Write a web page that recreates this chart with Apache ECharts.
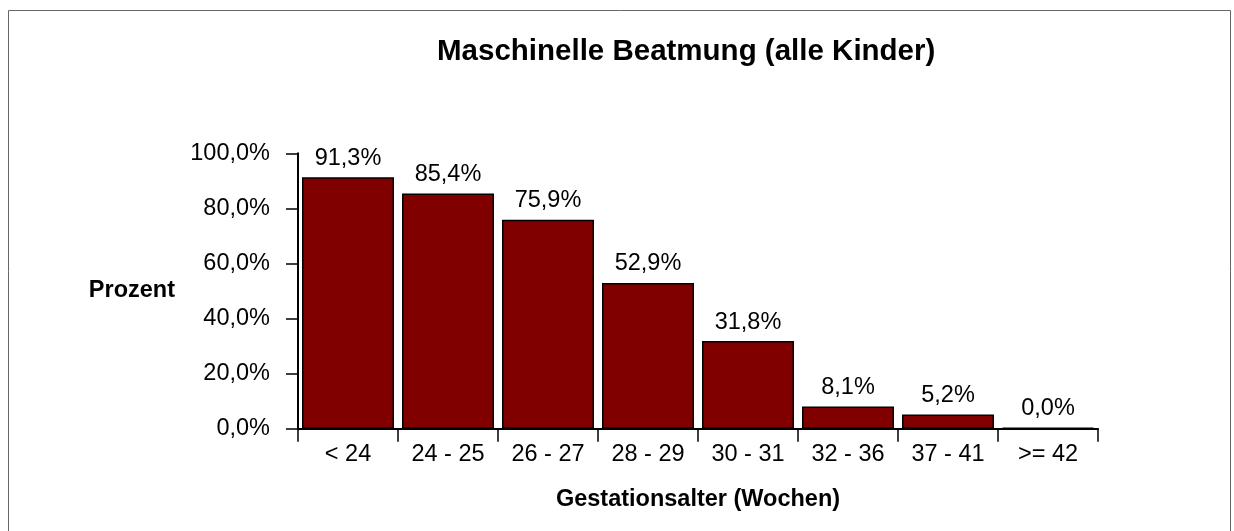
<!DOCTYPE html>
<html>
<head>
<meta charset="utf-8">
<script src="https://cdn.jsdelivr.net/npm/echarts@6/dist/echarts.min.js"></script>
<style>
    html, body {margin: 0; padding: 0; background: #fff;}
    #chart {width: 1234px; height: 531px;}
</style>
</head>
<body>
<div id="chart"></div>
<script>
    // Gestationsalter-Klassen und Anteil beatmeter Kinder (%)
    var categories = ['< 24', '24 - 25', '26 - 27', '28 - 29', '30 - 31', '32 - 36', '37 - 41', '>= 42'];
    var values = [91.3, 85.4, 75.9, 52.9, 31.8, 8.1, 5.2, 0.0];
    var yTicks = [0, 20, 40, 60, 80, 100];

    var fontName = '"Liberation Sans", Arial, sans-serif';

    function pct(v) {
        return v.toFixed(1).replace('.', ',') + '%';
    }

    var myChart = echarts.init(document.getElementById('chart'));
    var option = {
        animation: false,
        backgroundColor: '#fff',
        textStyle: {fontFamily: fontName, color: '#000'},
        title: {
            text: 'Maschinelle Beatmung (alle Kinder)',
            left: 437,
            top: 37,
            padding: 0,
            textStyle: {fontFamily: fontName, fontSize: 29.5, fontWeight: 'bold', color: '#000'}
        },
        graphic: [{
            type: 'rect',
            shape: {x: 8.5, y: 10.5, width: 1222, height: 540},
            style: {fill: 'none', stroke: '#666', lineWidth: 1},
            silent: true
        }],
        grid: {
            left: 298,
            right: 136,
            top: 153.3,
            bottom: 102.3,
            containLabel: false
        },
        xAxis: {
            type: 'category',
            data: categories,
            name: 'Gestationsalter (Wochen)',
            nameLocation: 'middle',
            nameGap: 59,
            nameTextStyle: {fontFamily: fontName, fontSize: 23.5, fontWeight: 'bold', color: '#000'},
            axisLine: {show: true, lineStyle: {color: '#000', width: 2}},
            axisTick: {show: true, length: 13, lineStyle: {color: '#000', width: 1.5}},
            axisLabel: {margin: 14, fontFamily: fontName, fontSize: 23.5, color: '#000'},
            splitLine: {show: false}
        },
        yAxis: {
            type: 'value',
            min: yTicks[0],
            max: yTicks[yTicks.length - 1],
            interval: 20,
            name: 'Prozent',
            nameLocation: 'middle',
            nameRotate: 0,
            nameGap: 123,
            nameTextStyle: {fontFamily: fontName, fontSize: 23.5, fontWeight: 'bold', color: '#000'},
            axisLine: {show: true, lineStyle: {color: '#000', width: 2}},
            axisTick: {show: true, length: 12, lineStyle: {color: '#000', width: 1.5}},
            axisLabel: {
                margin: 28,
                fontFamily: fontName,
                fontSize: 23.5,
                color: '#000',
                formatter: function (v) { return pct(v); }
            },
            splitLine: {show: false}
        },
        series: [{
            type: 'bar',
            data: values,
            barCategoryGap: '8%',
            barMinHeight: 1,
            itemStyle: {color: '#800000', borderColor: '#000', borderWidth: 1.5},
            label: {
                show: true,
                position: 'top',
                distance: 7,
                fontFamily: fontName,
                fontSize: 23.5,
                color: '#000',
                formatter: function (p) { return pct(p.value); }
            }
        }]
    };
    option && myChart.setOption(option);
</script>
</body>
</html>
